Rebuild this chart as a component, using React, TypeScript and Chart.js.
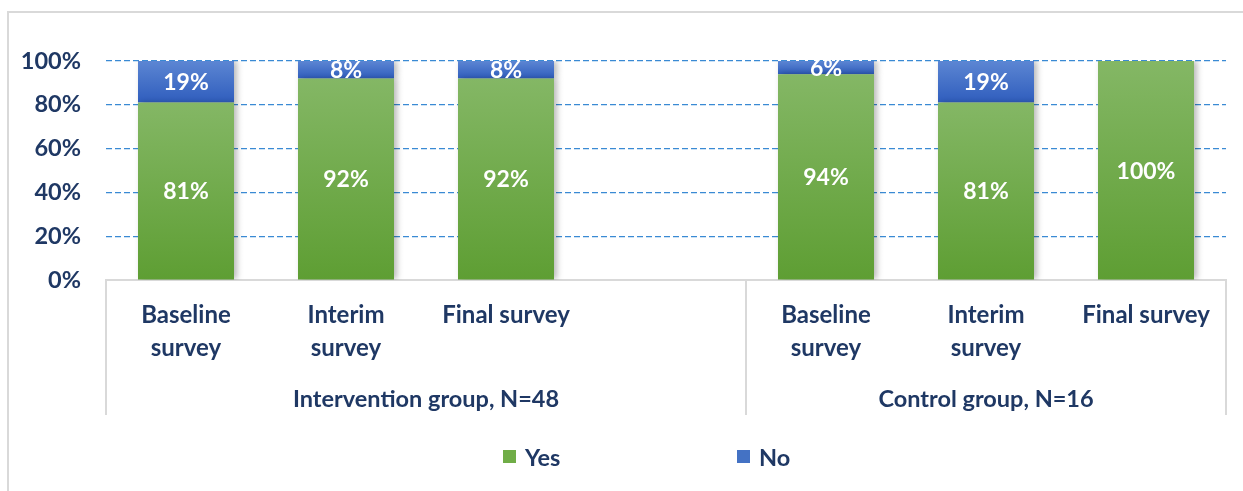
import React, { useEffect, useRef } from "react";
import { Chart, registerables } from "chart.js";

Chart.register(...registerables);

const categories: (string | string[])[] = [
  ["Baseline", "survey"],
  ["Interim", "survey"],
  "Final survey",
  "",
  ["Baseline", "survey"],
  ["Interim", "survey"],
  "Final survey",
];
const yesValues: (number | null)[] = [81, 92, 92, null, 94, 81, 100];
const noValues: (number | null)[] = [19, 8, 8, null, 6, 19, 0];
const seriesNames = ["Yes", "No"];
const groupLabels = ["Intervention group, N=48", "Control group, N=16"];
const groupSpans: [number, number][] = [
  [0, 3],
  [4, 6],
];
const yTicks = [0, 20, 40, 60, 80, 100];

const NAVY = "#1F3864";
const FONT = "Lato";

function segGradient(ctx: any, top: string, bottom: string, stackBase: number[] | null) {
  const chart = ctx.chart;
  const y = chart.scales && chart.scales.y;
  if (!y || ctx.type !== "data") return bottom;
  const i = ctx.dataIndex;
  const v = ctx.raw;
  if (v == null) return bottom;
  const base = stackBase ? (stackBase[i] ?? 0) : 0;
  const y0 = y.getPixelForValue(base);
  const y1 = y.getPixelForValue(base + v);
  if (!isFinite(y0) || !isFinite(y1) || y0 === y1) return bottom;
  const g = chart.ctx.createLinearGradient(0, y1, 0, y0);
  g.addColorStop(0, top);
  g.addColorStop(1, bottom);
  return g;
}

const frameAndExtras = {
  id: "frameAndExtras",
  beforeDraw(chart: any) {
    const ctx = chart.ctx;
    ctx.save();
    ctx.fillStyle = "#ffffff";
    ctx.fillRect(0, 0, chart.width, chart.height);
    ctx.strokeStyle = "#D9D9D9";
    ctx.lineWidth = 2;
    ctx.beginPath();
    ctx.moveTo(8, chart.height + 5);
    ctx.lineTo(8, 12);
    ctx.lineTo(chart.width + 5, 12);
    ctx.stroke();
    ctx.restore();
  },
  beforeDatasetsDraw(chart: any) {
    const ctx = chart.ctx;
    ctx.save();
    ctx.shadowColor = "rgba(0,0,0,0.28)";
    ctx.shadowBlur = 6;
    ctx.shadowOffsetX = 3;
    ctx.shadowOffsetY = 0;
  },
  afterDatasetsDraw(chart: any) {
    chart.ctx.restore();
  },
  afterDraw(chart: any) {
    const ctx = chart.ctx;
    const x = chart.scales.x;
    const area = chart.chartArea;
    const half = (x.getPixelForValue(1) - x.getPixelForValue(0)) / 2;
    const leftEdge = (i: number) => x.getPixelForValue(i) - half;
    const rightEdge = (i: number) => x.getPixelForValue(i) + half;

    // group separators
    ctx.save();
    ctx.strokeStyle = "#D9D9D9";
    ctx.lineWidth = 2;
    const seps = [leftEdge(0)];
    groupSpans.forEach((s) => seps.push(rightEdge(s[1])));
    ctx.beginPath();
    seps.forEach((sx) => {
      ctx.moveTo(sx, area.bottom);
      ctx.lineTo(sx, area.bottom + 135);
    });
    ctx.stroke();

    // group labels
    ctx.fillStyle = NAVY;
    ctx.font = `bold 23.5px ${FONT}`;
    ctx.textAlign = "center";
    ctx.textBaseline = "middle";
    groupSpans.forEach((s, gi) => {
      const cx = (leftEdge(s[0]) + rightEdge(s[1])) / 2;
      ctx.fillText(groupLabels[gi], cx, area.bottom + 119);
    });

    // data labels
    ctx.fillStyle = "#ffffff";
    ctx.font = `bold 23px ${FONT}`;
    chart.data.datasets.forEach((ds: any, di: number) => {
      const meta = chart.getDatasetMeta(di);
      meta.data.forEach((el: any, i: number) => {
        const v = ds.data[i];
        if (v == null || v === 0) return;
        const cy = (el.y + el.base) / 2;
        ctx.fillText(`${v}%`, el.x, cy + 1);
      });
    });

    // legend
    const legendY = 457;
    const legendX = [503, 737];
    ctx.textAlign = "left";
    ctx.font = `bold 23.5px ${FONT}`;
    chart.data.datasets.forEach((ds: any, di: number) => {
      const bx = legendX[di];
      ctx.fillStyle = di === 0 ? "#70AD47" : "#4472C4";
      ctx.fillRect(bx, legendY - 7, 13, 13);
      ctx.fillStyle = NAVY;
      ctx.fillText(ds.label, bx + 22, legendY + 1);
    });
    ctx.restore();
  },
};

export default function App() {
  const ref = useRef<HTMLCanvasElement | null>(null);
  useEffect(() => {
    if (!ref.current) return;
    const chart = new Chart(ref.current, {
      type: "bar",
      data: {
        labels: categories,
        datasets: [
          {
            label: seriesNames[0],
            data: yesValues,
            backgroundColor: (c: any) => segGradient(c, "#84B765", "#5E9E33", null),
            barPercentage: 0.6,
            categoryPercentage: 1,
          },
          {
            label: seriesNames[1],
            data: noValues,
            backgroundColor: (c: any) =>
              segGradient(c, "#5C86D3", "#2F5DBD", yesValues as number[]),
            barPercentage: 0.6,
            categoryPercentage: 1,
          },
        ],
      },
      options: {
        responsive: false,
        animation: false,
        devicePixelRatio: 1,
        layout: { padding: { left: 0, right: 17, top: 61, bottom: 0 } },
        plugins: {
          legend: { display: false },
          tooltip: { enabled: false },
        },
        scales: {
          x: {
            stacked: true,
            offset: true,
            grid: { display: false, drawTicks: false, tickLength: 0 },
            border: { display: true, color: "#D9D9D9", width: 2 },
            ticks: {
              autoSkip: false,
              maxRotation: 0,
              minRotation: 0,
              padding: 19,
              color: NAVY,
              font: { family: FONT, size: 24, weight: "bold", lineHeight: 1.38 },
            },
            afterFit: (s: any) => {
              s.height = 211;
            },
          },
          y: {
            stacked: true,
            min: 0,
            max: 100,
            afterBuildTicks: (s: any) => {
              s.ticks = yTicks.map((v) => ({ value: v }));
            },
            grid: {
              drawTicks: false,
              tickLength: 0,
              color: (c: any) => (c.tick && c.tick.value === 0 ? "rgba(0,0,0,0)" : "#3A8AD4"),
              lineWidth: 1.2,
            },
            border: { display: false, dash: [6, 3] },
            ticks: {
              padding: 25,
              color: NAVY,
              font: { family: FONT, size: 23.5, weight: "bold" },
              callback: (v: any) => `${v}%`,
            },
            afterFit: (s: any) => {
              s.width = 106;
            },
          },
        },
      } as any,
      plugins: [frameAndExtras],
    });
    return () => chart.destroy();
  }, []);
  return (
    <canvas
      ref={ref}
      width={1243}
      height={491}
      style={{ position: "fixed", left: 0, top: 0, width: 1243, height: 491 }}
    />
  );
}
